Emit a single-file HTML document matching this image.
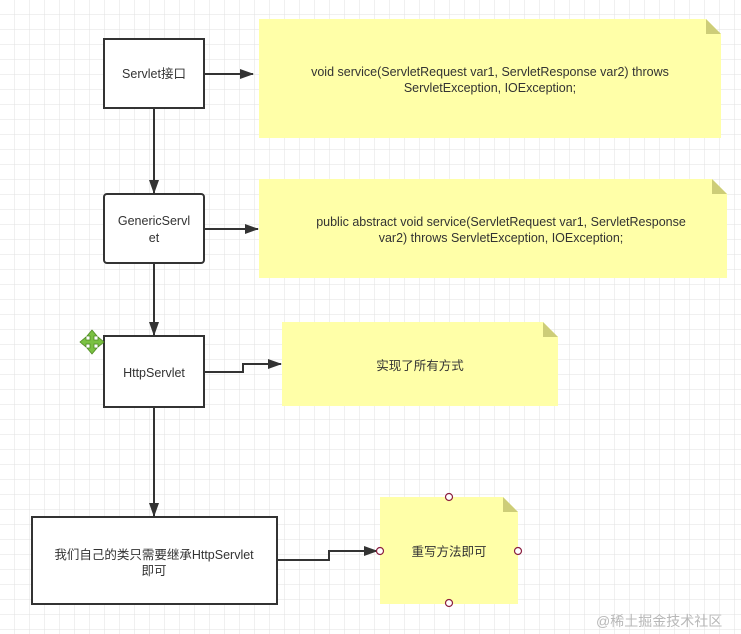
<!DOCTYPE html>
<html><head><meta charset="utf-8"><style>
body{margin:0;background:#fff}
svg{display:block}
text{font-family:"Liberation Sans","Noto Sans CJK SC",sans-serif;font-size:12.5px;fill:#333}
</style></head><body>
<svg width="741" height="634" viewBox="0 0 741 634" xmlns="http://www.w3.org/2000/svg">
<defs>
<pattern id="g" width="15" height="15" patternUnits="userSpaceOnUse">
<path d="M15 0V15M0 15H15" stroke="#e2e2e2" stroke-width="1" fill="none"/>
</pattern>
<marker id="a" markerWidth="14" markerHeight="10" refX="13" refY="5" orient="auto" markerUnits="userSpaceOnUse">
<path d="M0 0L14 5L0 10z" fill="#333"/>
</marker>
</defs>
<rect width="741" height="634" fill="url(#g)"/>
<path d="M259 19H706L721 34V138H259z" fill="#ffffa8"/>
<path d="M706 19L721 34H706z" fill="#cdcd78"/>
<path d="M259 179H712L727 194V278H259z" fill="#ffffa8"/>
<path d="M712 179L727 194H712z" fill="#cdcd78"/>
<path d="M282 322H543L558 337V406H282z" fill="#ffffa8"/>
<path d="M543 322L558 337H543z" fill="#cdcd78"/>
<path d="M380 497H503L518 512V604H380z" fill="#ffffa8"/>
<path d="M503 497L518 512H503z" fill="#cdcd78"/>
<g fill="#fff" stroke="#333" stroke-width="2">
<rect x="104" y="39" width="100" height="69"/>
<rect x="104" y="194" width="100" height="69" rx="3"/>
<rect x="104" y="336" width="100" height="71"/>
<rect x="32" y="517" width="245" height="87"/>
</g>
<g stroke="#333" stroke-width="2" fill="none" marker-end="url(#a)">
<path d="M204 74H253"/>
<path d="M154 108V193"/>
<path d="M204 229H258"/>
<path d="M154 263V335"/>
<path d="M204 372H243V364H281"/>
<path d="M154 407V516"/>
<path d="M277 560H329V551H377"/>
</g>
<g fill="none" stroke="#8b2040" stroke-width="1.2">
<circle cx="449" cy="497" r="3.5" fill="#fff"/>
<circle cx="380" cy="551" r="3.5" fill="#fff"/>
<circle cx="518" cy="551" r="3.5" fill="#fff"/>
<circle cx="449" cy="603" r="3.5" fill="#fff"/>
</g>
<g fill="#7ac142" stroke="#4e8a22" stroke-width="0.8">
<path d="M92 330L97 336H94V340H98V337L104 342L98 347V344H94V348H97L92 354L87 348H90V344H86V347L80 342L86 337V340H90V336H87z"/>
</g>
<text x="154" y="78" text-anchor="middle">Servlet接口</text>
<text x="154" y="225" text-anchor="middle">GenericServl</text>
<text x="154" y="242" text-anchor="middle">et</text>
<text x="154" y="377" text-anchor="middle">HttpServlet</text>
<text x="154" y="559" text-anchor="middle">我们自己的类只需要继承HttpServlet</text>
<text x="154" y="575" text-anchor="middle">即可</text>
<text x="490" y="76" text-anchor="middle">void service(ServletRequest var1, ServletResponse var2) throws</text>
<text x="490" y="92" text-anchor="middle">ServletException, IOException;</text>
<text x="501" y="226" text-anchor="middle">public abstract void service(ServletRequest var1, ServletResponse</text>
<text x="501" y="242" text-anchor="middle">var2) throws ServletException, IOException;</text>
<text x="420" y="370" text-anchor="middle">实现了所有方式</text>
<text x="449" y="556" text-anchor="middle">重写方法即可</text>
<text x="596" y="626" style="fill:#b8b8b8;font-size:14px">@稀土掘金技术社区</text>
</svg>
</body></html>
